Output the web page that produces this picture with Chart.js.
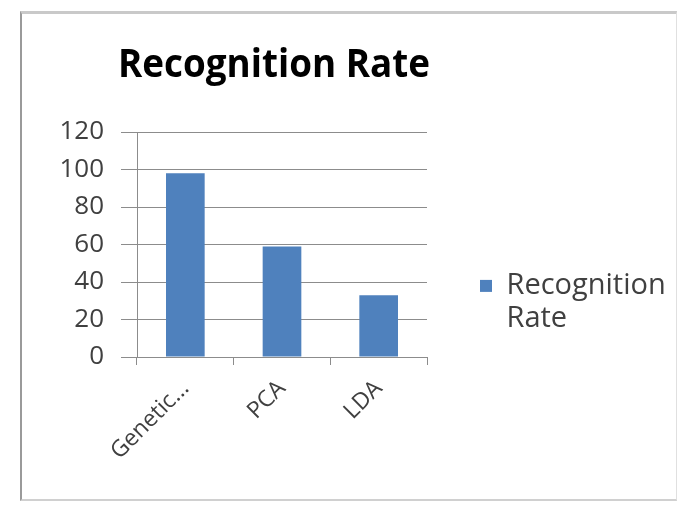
<!DOCTYPE html>
<html>
<head>
<meta charset="utf-8">
<script src="https://cdn.jsdelivr.net/npm/chart.js@4"></script>
<style>
  html, body { margin: 0; padding: 0; background: #fff; }
  #wrap { position: relative; width: 683px; height: 505px; }
  #frame { position: absolute; left: 20px; top: 11px; width: 657px; height: 490px;
           border-top: 3px solid #c9c9c9; border-left: 2px solid #9a9a9a;
           border-right: 1px solid #e0e0e0; border-bottom: 2px solid #d0d0d0; box-sizing: border-box; }
  canvas { position: absolute; left: 0; top: 0; }
</style>
</head>
<body>
<div id="wrap">
  <div id="frame"></div>
  <canvas id="c" width="683" height="505"></canvas>
</div>
<script>
const chartTitle = "Recognition Rate";
const categories = ["Genetic...", "PCA", "LDA"];
const seriesName = ["Recognition", "Rate"];
const recognitionRate = [98, 59, 33];
const yTicks = [0, 20, 40, 60, 80, 100, 120];

const FONT = "'Open Sans', 'DejaVu Sans', sans-serif";
const gridColor = "#8c8c8c";
const textColor = "#404040";
const LEGEND_W = 242;

const layoutTweaks = {
  id: "layoutTweaks",
  beforeLayout(chart) {
    const lg = chart.legend;
    if (lg && !lg._wPatched) {
      const orig = lg.fit;
      lg.fit = function () { orig.call(this); this.width = LEGEND_W; };
      lg._wPatched = true;
    }
  },
  afterLayout(chart) {
    const t = chart.titleBlock;
    const ca = chart.chartArea;
    if (t && ca) {
      t.left = ca.left - 19;
      t.right = ca.right + 3;
      t.width = t.right - t.left;
    }
  }
};

new Chart(document.getElementById("c"), {
  type: "bar",
  plugins: [layoutTweaks],
  data: {
    labels: categories,
    datasets: [{
      label: seriesName,
      data: recognitionRate,
      backgroundColor: "#4f81bd",
      borderWidth: 0,
      categoryPercentage: 1.0,
      barPercentage: 0.4
    }]
  },
  options: {
    responsive: false,
    animation: false,
    devicePixelRatio: 1,
    layout: { padding: { left: 20, right: 14, top: 28, bottom: 0 } },
    plugins: {
      tooltip: { enabled: false },
      title: {
        display: true,
        text: chartTitle,
        fullSize: false,
        color: "#000",
        font: { family: FONT, size: 40, weight: "bold", lineHeight: 1.2 },
        padding: { top: 14, bottom: 42 }
      },
      legend: {
        display: true,
        position: "right",
        fullSize: false,
        align: "start",
        title: { display: true, text: " ", font: { size: 2 }, padding: { top: 54, bottom: 30 } },
        labels: {
          color: textColor,
          font: { family: FONT, size: 29, lineHeight: 1.13 },
          boxWidth: 12,
          boxHeight: 12,
          padding: 53
        }
      }
    },
    scales: {
      x: {
        grid: { display: true, drawOnChartArea: false, drawTicks: true, tickLength: 8, color: gridColor, offset: true },
        border: { display: true, color: gridColor, width: 1 },
        ticks: {
          color: textColor,
          font: { family: FONT, size: 23 },
          minRotation: 45,
          maxRotation: 45,
          autoSkip: false,
          padding: 10
        },
        afterFit: (s) => { s.height = 148; }
      },
      y: {
        min: 0,
        max: 120,
        afterBuildTicks: (s) => { s.ticks = yTicks.map(v => ({ value: v })); },
        grid: { color: gridColor, drawTicks: true, tickLength: 16, lineWidth: 1 },
        border: { display: true, color: gridColor, width: 1 },
        ticks: {
          color: textColor,
          font: { family: FONT, size: 26 },
          padding: 17
        },
        afterFit: (s) => { s.width = 117; }
      }
    }
  }
});
</script>
</body>
</html>
